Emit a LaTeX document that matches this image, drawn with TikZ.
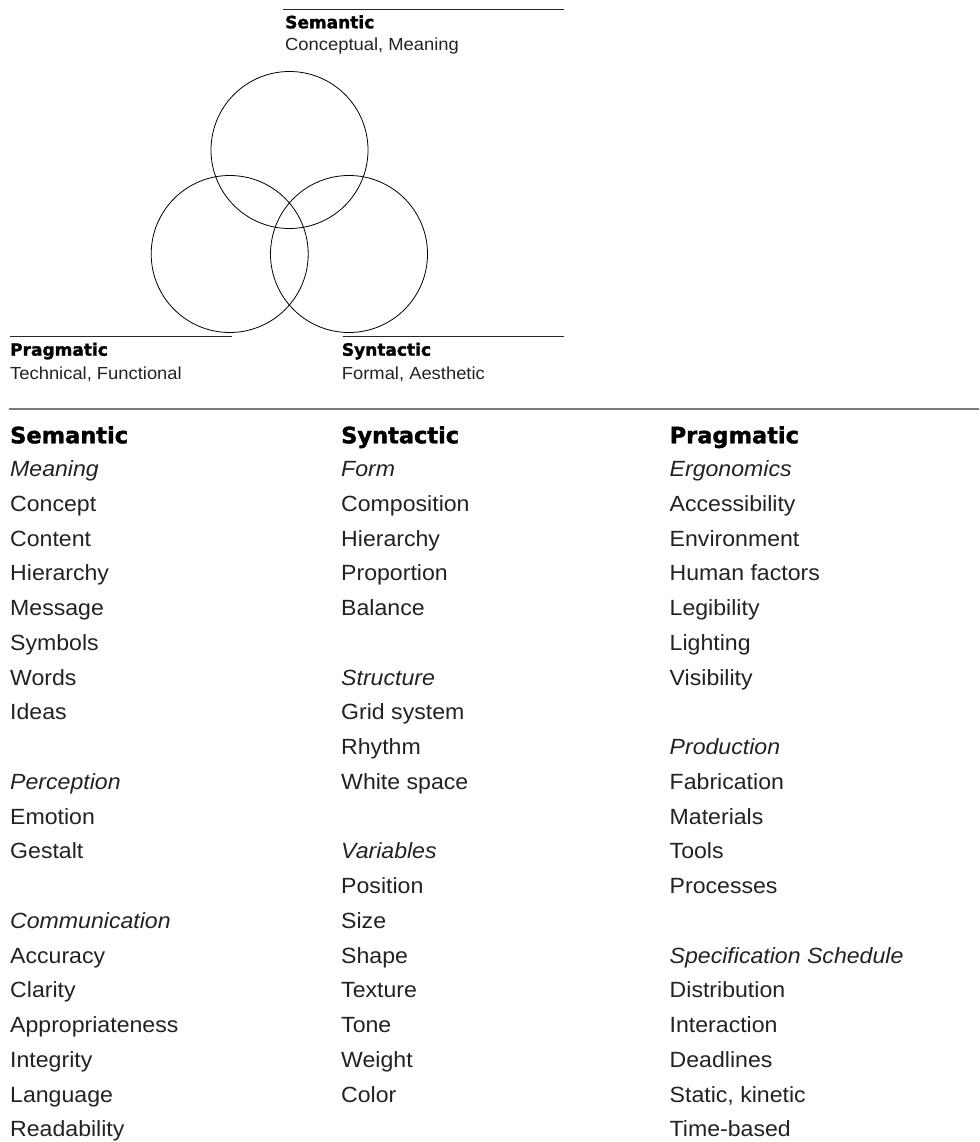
\documentclass[tikz,border=0pt]{standalone}
\usepackage{fontspec}
\setmainfont{Liberation Sans}[FakeStretch=1.05]
\newfontfamily\headfont{DejaVu Sans}[BoldFeatures={FakeBold=1.6}]
\definecolor{txt}{HTML}{222222}
\definecolor{rule}{HTML}{7A7A7A}
\begin{document}
\begin{tikzpicture}[x=1pt,y=-1pt,
  ring/.style={circle,draw=black,line width=0.8pt,minimum size=157pt,inner sep=0pt},
  tag/.style={anchor=base west,inner sep=0pt,font=\headfont\bfseries\fontsize{17}{20}\selectfont},
  sub/.style={anchor=base west,inner sep=0pt,text=txt,font=\fontsize{17.5}{20}\selectfont},
  tagline/.style={draw=black!85,line width=0.8pt},
  sepline/.style={draw=rule,line width=1.6pt},
  colhead/.style={anchor=base west,inner sep=0pt,font=\headfont\bfseries\fontsize{22.5}{26}\selectfont},
  itemr/.style={anchor=base west,inner sep=0pt,text=txt,font=\fontsize{22}{26}\selectfont},
  itemi/.style={anchor=base west,inner sep=0pt,text=txt,font=\itshape\fontsize{22}{26}\selectfont}]
\useasboundingbox (0,0) rectangle (979,1142);
% circles
\node[ring] (sem) at (289.5,150) {};
\node[ring] (pra) at (229.7,254) {};
\node[ring] (syn) at (349,254) {};
% top label
\coordinate (semL) at (283,9.3);
\coordinate (semR) at (564,9.3);
\draw[tagline] (semL) -- (semR);
\node[tag] (semT) at (285,28.3) {Semantic};
\node[sub] (semS) at (285,50.7) {Conceptual, Meaning};
% pragmatic label
\coordinate (praL) at (10,336.7);
\coordinate (praR) at (231.7,336.7);
\draw[tagline] (praL) -- (praR);
\node[tag] (praT) at (10,355.7) {Pragmatic};
\node[sub] (praS) at (10,379.3) {Technical, Functional};
% syntactic label
\coordinate (synL) at (342.7,336.7);
\coordinate (synR) at (564,336.7);
\draw[tagline] (synL) -- (synR);
\node[tag] (synT) at (341.7,355.7) {Syntactic};
\node[sub] (synS) at (341.7,379.3) {Formal, Aesthetic};
% separator
\coordinate (sepL) at (9,409);
\coordinate (sepR) at (979,409);
\draw[sepline] (sepL) -- (sepR);
% column heads
\node[colhead] (h1) at (10,443.3) {Semantic};
\node[colhead] (h2) at (341,443.3) {Syntactic};
\node[colhead] (h3) at (669.5,443.3) {Pragmatic};
% column 1
\foreach \r/\t/\s in {0/Meaning/itemi,1/Concept/itemr,2/Content/itemr,3/Hierarchy/itemr,
  4/Message/itemr,5/Symbols/itemr,6/Words/itemr,7/Ideas/itemr,9/Perception/itemi,
  10/Emotion/itemr,11/Gestalt/itemr,13/Communication/itemi,14/Accuracy/itemr,
  15/Clarity/itemr,16/Appropriateness/itemr,17/Integrity/itemr,18/Language/itemr,
  19/Readability/itemr}
  \node[\s] (a\r) at (10,476.7+34.74*\r) {\t};
% column 2
\foreach \r/\t/\s in {0/Form/itemi,1/Composition/itemr,2/Hierarchy/itemr,3/Proportion/itemr,
  4/Balance/itemr,6/Structure/itemi,7/Grid system/itemr,8/Rhythm/itemr,9/White space/itemr,
  11/Variables/itemi,12/Position/itemr,13/Size/itemr,14/Shape/itemr,15/Texture/itemr,
  16/Tone/itemr,17/Weight/itemr,18/Color/itemr}
  \node[\s] (b\r) at (341,476.7+34.74*\r) {\t};
% column 3
\foreach \r/\t/\s in {0/Ergonomics/itemi,1/Accessibility/itemr,2/Environment/itemr,
  3/Human factors/itemr,4/Legibility/itemr,5/Lighting/itemr,6/Visibility/itemr,
  8/Production/itemi,9/Fabrication/itemr,10/Materials/itemr,11/Tools/itemr,12/Processes/itemr,
  14/Specification Schedule/itemi,15/Distribution/itemr,16/Interaction/itemr,
  17/Deadlines/itemr,18/{Static, kinetic}/itemr,19/Time-based/itemr}
  \node[\s] (c\r) at (669.5,476.7+34.74*\r) {\t};
\end{tikzpicture}
\end{document}
